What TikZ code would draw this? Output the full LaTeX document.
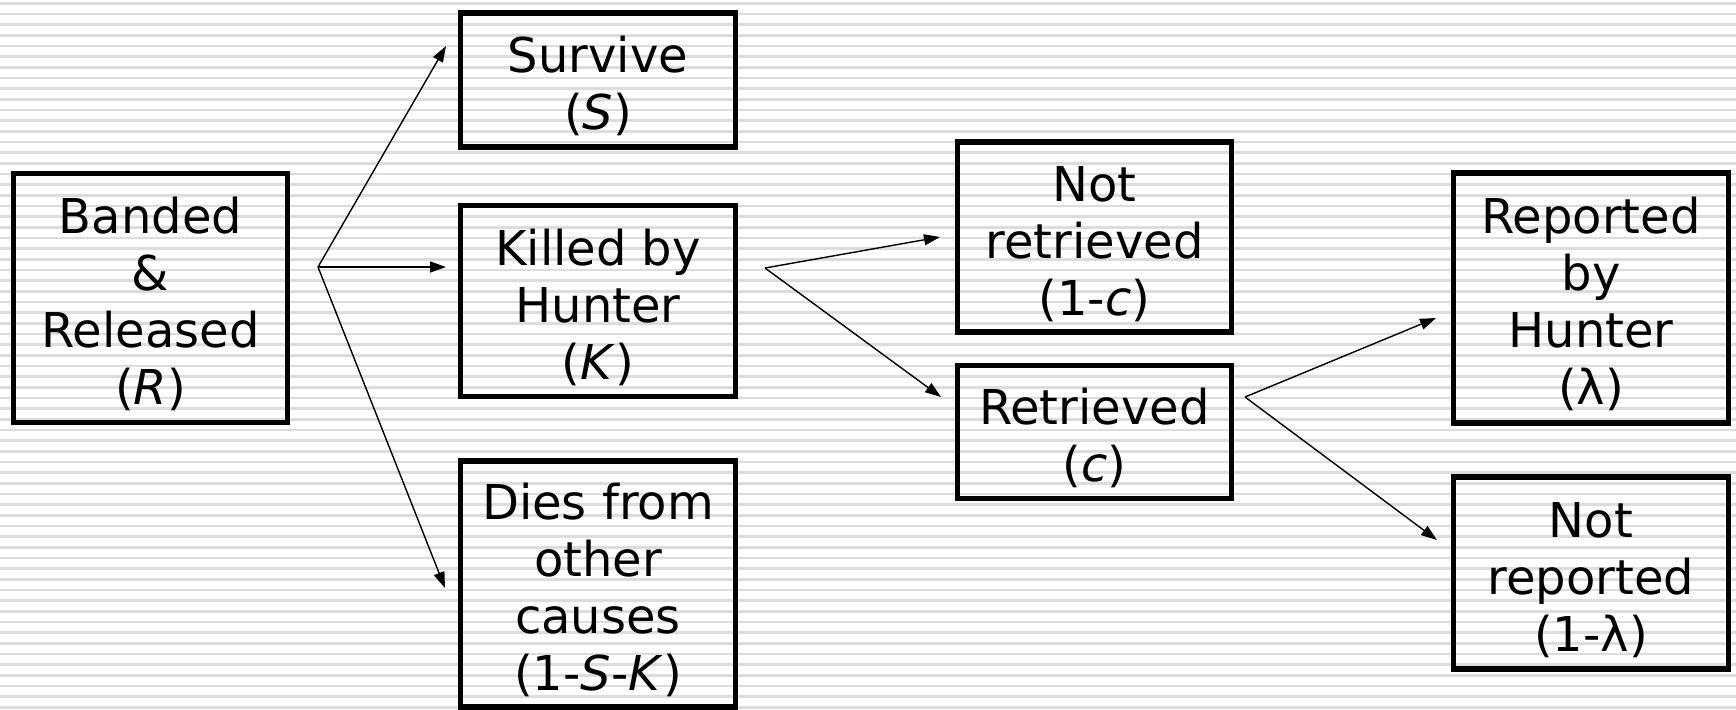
\documentclass[tikz,border=0pt]{standalone}
\usepackage{fontspec}
\setmainfont{DejaVu Sans}
\usetikzlibrary{arrows.meta}
\definecolor{stripe}{RGB}{220,220,220}
\newcommand\bxtext[1]{\raisebox{-5pt}[\height][\depth]{\begin{tabular}{@{}c@{}}#1\end{tabular}}}
\begin{document}
\begin{tikzpicture}[x=0.5pt,y=-0.5pt,
  box/.style={draw=black,line width=2.6pt,align=center,inner sep=0pt,
    font=\fontsize{24}{28.5}\selectfont},
  conn/.style={line width=0.7pt,-{Triangle[length=8pt,width=5.5pt]}}]
\useasboundingbox (0,0) rectangle (1736,709);
\fill[white] (0,0) rectangle (1736,709);
\foreach \k in {0,...,66} {
  \fill[stripe] (0,{2+10.667*\k}) rectangle (1736,{4.7+10.667*\k});
}
\node[box,minimum width=137pt,minimum height=124.75pt] (R) at (150.5,298) {\bxtext{Banded\\\&\\Released\\(\textit{R})}};
\node[box,minimum width=137.25pt,minimum height=67pt] (S) at (598,80) {\bxtext{Survive\\(\textit{S})}};
\node[box,minimum width=137.5pt,minimum height=95.75pt] (K) at (598,301) {\bxtext{Killed by\\Hunter\\(\textit{K})}};
\node[box,minimum width=137.5pt,minimum height=123pt] (D) at (598,584) {\bxtext{Dies from\\other\\causes\\(1-\textit{S}-\textit{K})}};
\node[box,minimum width=137pt,minimum height=95pt] (NR) at (1094.5,237) {\bxtext{Not\\retrieved\\(1-\textit{c})}};
\node[box,minimum width=137pt,minimum height=66.75pt] (RT) at (1094.5,432) {\bxtext{Retrieved\\(\textit{c})}};
\node[box,minimum width=137.5pt,minimum height=125pt] (RH) at (1591,298) {\bxtext{Reported\\by\\Hunter\\(λ)}};
\node[box,minimum width=137.5pt,minimum height=96pt] (NP) at (1591,573) {\bxtext{Not\\reported\\(1-λ)}};
\coordinate (f1) at (318,267);
\coordinate (f2) at (765,268);
\coordinate (f3) at (1245,397);
\coordinate (tS) at (446,46);
\coordinate (tK) at (446,267);
\coordinate (tD) at (445,588);
\coordinate (tNR) at (940,237);
\coordinate (tRT) at (941,397);
\coordinate (tRH) at (1436,318);
\coordinate (tNP) at (1437,540);
\draw[conn] (f1) -- (tS);
\draw[conn] (f1) -- (tK);
\draw[conn] (f1) -- (tD);
\draw[conn] (f2) -- (tNR);
\draw[conn] (f2) -- (tRT);
\draw[conn] (f3) -- (tRH);
\draw[conn] (f3) -- (tNP);
\end{tikzpicture}
\end{document}
